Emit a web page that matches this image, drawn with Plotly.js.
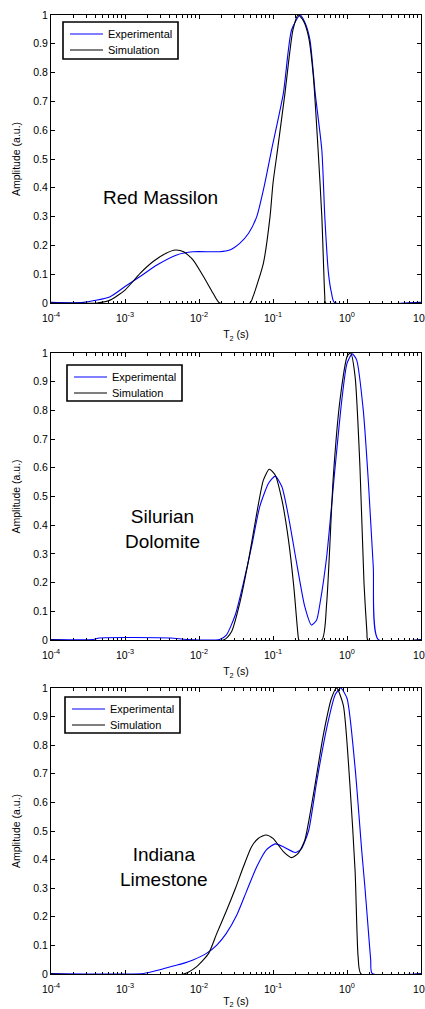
<!DOCTYPE html>
<html><head><meta charset="utf-8">
<script src="https://cdn.plot.ly/plotly-3.0.1.min.js"></script>
<style>body{margin:0;padding:0;background:#fff}#chart{width:425px;height:1009px}</style>
</head><body><div id="chart"></div>
<script>
// ---- Red Massilon ----
const rmExpT2 = [1e-4, 2.75e-4, 6.3e-4, 1e-3, 1.6e-3, 2.7e-3, 5e-3, 8.3e-3, 1.9e-2, 2.6e-2, 3.55e-2, 4.68e-2, 6.03e-2, 7.76e-2, 9.55e-2, 0.138, 0.178, 0.232, 0.269, 0.316, 0.372, 0.457, 0.501, 0.562, 0.617, 0.676, 10];
const rmExpAmp = [0.002, 0.002, 0.022, 0.057, 0.092, 0.132, 0.167, 0.178, 0.178, 0.184, 0.207, 0.242, 0.3, 0.416, 0.531, 0.728, 0.948, 1.0, 0.975, 0.913, 0.728, 0.531, 0.3, 0.103, 0.035, 0.002, 0.002];
const rmSimT2 = [1e-4, 4.2e-4, 6.3e-4, 1e-3, 1.6e-3, 2.4e-3, 3.6e-3, 4.8e-3, 6.2e-3, 8.3e-3, 1.15e-2, 1.55e-2, 1.9e-2, 4.9e-2, 5.37e-2, 7.41e-2, 9.12e-2, 0.1, 0.115, 0.145, 0.186, 0.219, 0.257, 0.302, 0.351, 0.407, 0.457, 0.501, 0.513, 10];
const rmSimAmp = [0, 0, 0.01, 0.045, 0.103, 0.144, 0.173, 0.184, 0.178, 0.15, 0.092, 0.034, 0, 0, 0.022, 0.138, 0.3, 0.416, 0.531, 0.728, 0.948, 1.0, 0.98, 0.925, 0.787, 0.531, 0.3, 0.022, 0, 0];
// ---- Silurian Dolomite ----
const sdExpT2 = [1e-4, 3.7e-4, 4.5e-4, 4.1e-3, 6.8e-3, 1.9e-2, 2.34e-2, 3.09e-2, 3.98e-2, 5.13e-2, 6.61e-2, 8.71e-2, 0.107, 0.132, 0.162, 0.209, 0.269, 0.331, 0.389, 0.432, 0.531, 0.692, 0.851, 1.0, 1.175, 1.349, 1.66, 1.95, 2.265, 2.63, 10];
const sdExpAmp = [0.002, 0.002, 0.007, 0.007, 0.002, 0.002, 0.017, 0.087, 0.198, 0.325, 0.464, 0.546, 0.571, 0.534, 0.43, 0.267, 0.116, 0.052, 0.07, 0.128, 0.29, 0.604, 0.836, 0.964, 0.997, 0.976, 0.8, 0.546, 0.255, 0.002, 0.002];
const sdSimT2 = [1e-4, 2.14e-2, 2.75e-2, 3.55e-2, 4.68e-2, 6.03e-2, 7.41e-2, 8.91e-2, 0.107, 0.132, 0.162, 0.191, 0.219, 0.224, 0.457, 0.531, 0.653, 0.804, 1.012, 1.122, 1.288, 1.496, 1.698, 1.862, 1.905, 10];
const sdSimAmp = [0, 0, 0.029, 0.128, 0.279, 0.441, 0.557, 0.595, 0.575, 0.488, 0.348, 0.186, 0.012, 0, 0, 0.128, 0.569, 0.836, 0.99, 1.0, 0.917, 0.604, 0.197, 0.023, 0, 0];
// ---- Indiana Limestone ----
const ilExpT2 = [1e-4, 1.78e-3, 2.95e-3, 4.47e-3, 6.3e-3, 8.3e-3, 1.26e-2, 1.74e-2, 2.34e-2, 3.24e-2, 4.37e-2, 6.03e-2, 8.13e-2, 0.107, 0.138, 0.2, 0.24, 0.302, 0.389, 0.531, 0.692, 0.822, 1.0, 1.288, 1.585, 1.738, 1.905, 2.089, 2.188, 10];
const ilExpAmp = [0.002, 0.002, 0.015, 0.028, 0.038, 0.049, 0.072, 0.101, 0.142, 0.206, 0.288, 0.375, 0.434, 0.455, 0.445, 0.425, 0.437, 0.5, 0.672, 0.859, 0.976, 1.0, 0.964, 0.72, 0.428, 0.31, 0.18, 0.05, 0.002, 0.002];
const ilSimT2 = [1e-4, 6.2e-3, 9.3e-3, 1.35e-2, 1.74e-2, 2.34e-2, 3.09e-2, 3.98e-2, 5.13e-2, 6.31e-2, 8.04e-2, 0.1, 0.138, 0.178, 0.219, 0.269, 0.351, 0.479, 0.617, 0.724, 0.891, 1.096, 1.288, 1.413, 1.549, 10];
const ilSimAmp = [0, 0, 0.026, 0.072, 0.142, 0.22, 0.298, 0.375, 0.445, 0.474, 0.486, 0.474, 0.428, 0.407, 0.422, 0.468, 0.626, 0.836, 0.964, 1.0, 0.94, 0.66, 0.358, 0.06, 0, 0];

const sampleNames = ["Red Massilon", "Silurian<br>Dolomite", "Indiana<br>Limestone"];
const seriesNames = ["Experimental", "Simulation"];
const seriesColors = ["#0000ff", "#000000"];
const xTickVals = [1e-4, 1e-3, 1e-2, 1e-1, 1e0, 1e1];
const xTickText = ["10<sup>-4</sup>", "10<sup>-3</sup>", "10<sup>-2</sup>", "10<sup>-1</sup>", "10<sup>0</sup>", "10<sup>1</sup>"];
const yTickVals = [0, 0.1, 0.2, 0.3, 0.4, 0.5, 0.6, 0.7, 0.8, 0.9, 1];
const yTickText = ["0", "0.1", "0.2", "0.3", "0.4", "0.5", "0.6", "0.7", "0.8", "0.9", "1"];

const minorVals = [];
for (let e = -4; e < 1; e++) for (let m = 2; m <= 9; m++) minorVals.push(m * Math.pow(10, e));

const FONT = "Liberation Sans, Arial, sans-serif";
const W = 425, H = 1009, T = 15, B = 35, L = 51, R = 4;
const ph = H - T - B, Wp = W - L - R;
const toPy = px => (H - B - px) / ph;
const toPx = px => (px - L) / Wp;
const panels = [
  {top: 15, bot: 303, leg: [63, 22, 178, 59], exp: [rmExpT2, rmExpAmp], sim: [rmSimT2, rmSimAmp], ann: [160, 197]},
  {top: 353, bot: 640, leg: [67, 365, 182, 401], exp: [sdExpT2, sdExpAmp], sim: [sdSimT2, sdSimAmp], ann: [162, 529]},
  {top: 688, bot: 974, leg: [65, 697, 180, 733], exp: [ilExpT2, ilExpAmp], sim: [ilSimT2, ilSimAmp], ann: [164, 867]}
];

const data = [], shapes = [], annotations = [];
const layout = {
  width: W, height: H,
  margin: {l: L, r: R, t: T, b: B},
  paper_bgcolor: "#fff", plot_bgcolor: "#fff",
  font: {family: FONT, size: 10.5, color: "#000"},
  showlegend: false, shapes: shapes, annotations: annotations
};
panels.forEach((p, i) => {
  const s = i === 0 ? "" : String(i + 1);
  [p.exp, p.sim].forEach((ser, k) => {
    data.push({x: ser[0], y: ser[1], type: "scatter", mode: "lines", name: seriesNames[k],
      line: {color: seriesColors[k], width: 1.1, shape: "spline", smoothing: 0.6},
      xaxis: "x" + s, yaxis: "y" + s, showlegend: false});
  });
  layout["xaxis" + s] = {
    type: "log", range: [-4, 1], anchor: "y" + s, domain: [0, 1],
    tickmode: "array", tickvals: xTickVals, ticktext: xTickText,
    ticks: "inside", ticklen: 4, tickwidth: 1, tickcolor: "#000",
    minor: {tickmode: "array", tickvals: minorVals, ticks: "inside", ticklen: 2.5, tickwidth: 1, tickcolor: "#000", showgrid: false},
    showline: true, linecolor: "#000", linewidth: 1, mirror: "ticks",
    showgrid: false, zeroline: false, automargin: false, ticklabelstandoff: 5,
    ticklabeloverflow: "allow",
    tickfont: {family: FONT, size: 10.5, color: "#000"},
    title: {text: "T<sub>2</sub> (s)", font: {family: FONT, size: 10.5, color: "#000"}, standoff: 8}
  };
  layout["yaxis" + s] = {
    range: [0, 1], anchor: "x" + s, domain: [toPy(p.bot), toPy(p.top)],
    tickmode: "array", tickvals: yTickVals, ticktext: yTickText,
    ticks: "inside", ticklen: 4, tickwidth: 1, tickcolor: "#000",
    showline: true, linecolor: "#000", linewidth: 1, mirror: "ticks",
    showgrid: false, zeroline: false, automargin: false,
    tickfont: {family: FONT, size: 10.5, color: "#000"},
    title: {text: "Amplitude (a.u.)", font: {family: FONT, size: 10.5, color: "#000"}}
  };
  // legend key: frame, sample lines, labels
  const [lx0, ly0, lx1, ly1] = p.leg;
  shapes.push({type: "rect", xref: "paper", yref: "paper", x0: toPx(lx0), x1: toPx(lx1), y0: toPy(ly1), y1: toPy(ly0),
    line: {color: "#000", width: 1.6}, fillcolor: "#fff", layer: "above"});
  seriesNames.forEach((nm, k) => {
    const ry = ly0 + 12 + k * 16;
    shapes.push({type: "line", xref: "paper", yref: "paper", x0: toPx(lx0 + 7), x1: toPx(lx0 + 40), y0: toPy(ry), y1: toPy(ry),
      line: {color: seriesColors[k], width: 1.1}, layer: "above"});
    annotations.push({xref: "paper", yref: "paper", x: toPx(lx0 + 43), y: toPy(ry), xanchor: "left", yanchor: "middle",
      showarrow: false, text: nm, font: {family: FONT, size: 11, color: "#000"}});
  });
  annotations.push({
    xref: "paper", yref: "paper", x: toPx(p.ann[0]), y: toPy(p.ann[1]),
    xanchor: "center", yanchor: "middle", showarrow: false,
    text: sampleNames[i], font: {family: FONT, size: 19, color: "#000"}
  });
});
Plotly.newPlot("chart", data, layout, {displayModeBar: false, staticPlot: true});
</script></body></html>
